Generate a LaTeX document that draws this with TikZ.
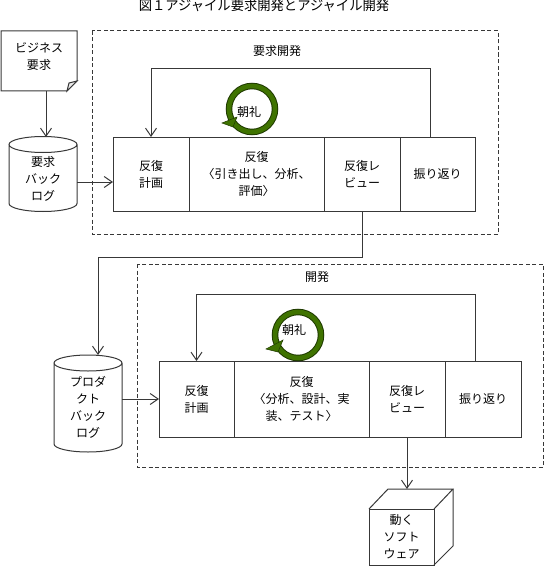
\documentclass[tikz,border=0pt]{standalone}
\usepackage{fontspec}
\setmainfont{Noto Sans CJK JP}
\usetikzlibrary{arrows.meta}

\definecolor{linegray}{HTML}{383838}
\definecolor{ringgreen}{HTML}{3F7300}
\definecolor{ringdark}{HTML}{1F3A00}
\tikzset{
  every node/.style={font=\fontsize{12}{17}\selectfont, align=center, inner sep=0pt, outer sep=0pt, text=black},
  conn/.style={draw=linegray, line width=1pt},
  arr/.style={conn, -{Straight Barb[length=8pt,width=11pt,line width=1pt]}},
  frame/.style={draw=linegray, line width=1pt, dash pattern=on 4pt off 2.5pt},
  cell/.style={draw=linegray, line width=1pt, minimum height=74pt},
  ringout/.style={draw=ringdark, line width=6.5pt},
  ringin/.style={draw=ringgreen, line width=4.5pt},
  ringtip/.style={fill=ringgreen, draw=ringdark, line width=0.5pt},
}

\begin{document}
\begin{tikzpicture}[x=1pt,y=-1pt]
    \useasboundingbox (0,0) rectangle (544,567);
    \node (title) at (264,6) {\fontsize{13.3}{13.3}\selectfont 図１アジャイル要求開発とアジャイル開発};

    % business requirement sheet
    \node (bizreq) [minimum width=76pt, minimum height=60pt] at (39,61) {};
    \node at (39,56.5) {ビジネス\\要求};
    \draw[conn] (bizreq.north west) -- (bizreq.north east) -- ([yshift=10pt]bizreq.south east)
      -- ([xshift=-10pt]bizreq.south east) -- (bizreq.south west) -- cycle;
    \draw[conn, fill=black!8] ([yshift=10pt]bizreq.south east) -- ([xshift=-8pt,yshift=8pt]bizreq.south east)
      -- ([xshift=-10pt]bizreq.south east) -- cycle;

    % upper row
    \draw[frame] (92,31) rectangle (498,234);
    \node (reqlabel) at (277,51) {要求開発};
    \node (reqlog) [minimum width=68pt, minimum height=75pt] at (43,174) {};
    \draw[conn] ([yshift=-8pt]reqlog.north west) -- ([yshift=8pt]reqlog.south west) arc (180:360:34pt and 8pt)
      -- ([yshift=-8pt]reqlog.north east) arc (0:180:34pt and 8pt) arc (180:360:34pt and 8pt);
    \node at (43,178.5) {要求\\バック\\ログ};
    \node (plana) [cell, minimum width=76pt] at (151,174) {反復\\計画};
    \node (worka) [cell, minimum width=135pt] at (256.5,174) {反復\\〈引き出し、分析、\\評価〉};
    \node (reviewa) [cell, minimum width=76pt] at (362,174) {反復レ\\ビュー};
    \node (retroa) [cell, minimum width=75pt] at (437.5,174) {振り返り};
    \draw[arr] (46,91) -- (46,137);
    \draw[arr] ([yshift=-8pt]reqlog.east) -- ([yshift=-8pt]plana.west);
    \draw[arr] (430,137) -- (430,69) -| (plana.north);
    \draw[ringout] (252,109) circle (23);
    \draw[ringin] (252,109) circle (23);
    \fill[ringtip] (222,123) -- (237,117) -- (233,127) -- cycle;
    \node (choreia) at (249,112) {朝礼};

    % lower row
    \draw[frame] (137,264) rectangle (543,467);
    \node (devlabel) at (317,277) {開発};
    \node (prodlog) [minimum width=68pt, minimum height=97pt] at (88,403.5) {};
    \draw[conn] ([yshift=-8pt]prodlog.north west) -- ([yshift=8pt]prodlog.south west) arc (180:360:34pt and 8pt)
      -- ([yshift=-8pt]prodlog.north east) arc (0:180:34pt and 8pt) arc (180:360:34pt and 8pt);
    \node at (88,407.5) {プロダ\\クト\\バック\\ログ};
    \node (planb) [cell, minimum width=75pt, minimum height=76pt] at (196.5,399) {反復\\計画};
    \node (workb) [cell, minimum width=135pt, minimum height=76pt] at (301.5,399) {反復\\〈分析、設計、実\\装、テスト〉};
    \node (reviewb) [cell, minimum width=76pt, minimum height=76pt] at (407,399) {反復レ\\ビュー};
    \node (retrob) [cell, minimum width=76pt, minimum height=76pt] at (483,399) {振り返り};
    \draw[arr] (reviewa.south) -- (362,257) -- (98,257) -- (98,355);
    \draw[arr] (prodlog.east |- planb.west) -- (planb.west);
    \draw[arr] (475,361) -- (475,294) -| (planb.north);
    \draw[ringout] (298,335) circle (23);
    \draw[ringin] (298,335) circle (23);
    \fill[ringtip] (266,349) -- (283,340) -- (278,352) -- cycle;
    \node (choreib) at (294,330) {朝礼};

    % working software box
    \node (soft) [draw=linegray, line width=1pt, minimum width=65pt, minimum height=56pt] at (401.5,537) {動く\\ソフト\\ウェア};
    \draw[conn] (soft.north west) -- (388,489) -- (453,489) -- (soft.north east);
    \draw[conn] (453,489) -- (453,546) -- (soft.south east);
    \coordinate (softtop) at (407,489);
    \draw[arr] (reviewb.south) -- (softtop);
  \end{tikzpicture}
\end{document}
